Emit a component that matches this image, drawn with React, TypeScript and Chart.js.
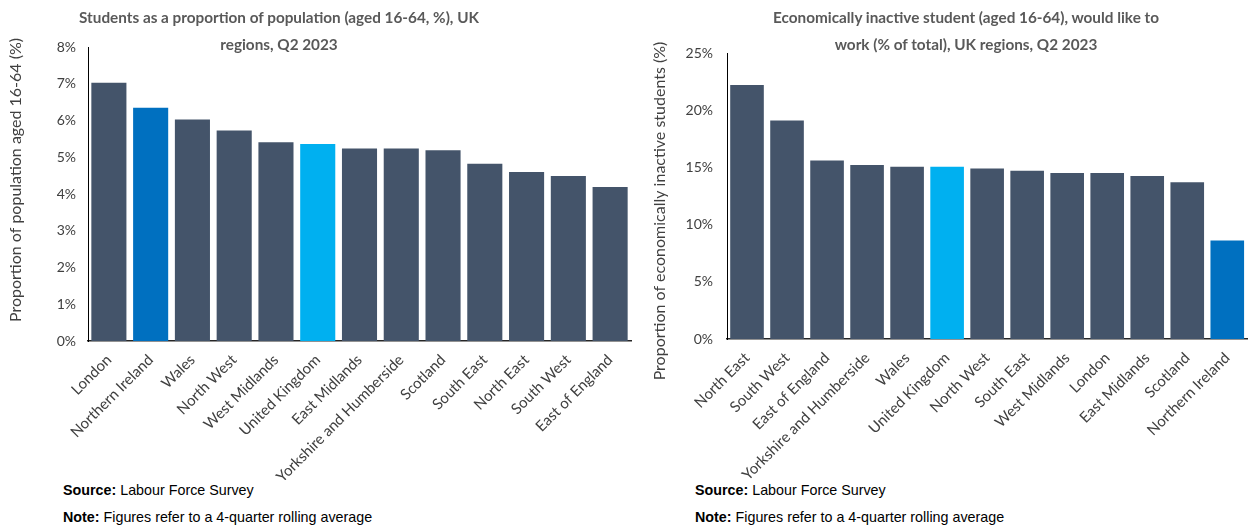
import React, { useEffect, useRef } from "react";
import { Chart, registerables } from "chart.js";

Chart.register(...registerables);

// ---- Data: left chart ----
const leftCategories = [
  "London",
  "Northern Ireland",
  "Wales",
  "North West",
  "West Midlands",
  "United Kingdom",
  "East Midlands",
  "Yorkshire and Humberside",
  "Scotland",
  "South East",
  "North East",
  "South West",
  "East of England",
];
const leftValues = [7.03, 6.35, 6.03, 5.73, 5.41, 5.36, 5.24, 5.24, 5.19, 4.82, 4.6, 4.49, 4.19];
const leftTitleLines = ["Students as a proportion of population (aged 16-64, %), UK", "regions, Q2 2023"];
const leftAxisTitle = "Proportion of population aged 16-64 (%)";
const leftMax = 8;
const leftStep = 1;

// ---- Data: right chart ----
const rightCategories = [
  "North East",
  "South West",
  "East of England",
  "Yorkshire and Humberside",
  "Wales",
  "United Kingdom",
  "North West",
  "South East",
  "West Midlands",
  "London",
  "East Midlands",
  "Scotland",
  "Northern Ireland",
];
const rightValues = [22.2, 19.1, 15.6, 15.2, 15.05, 15.05, 14.9, 14.7, 14.5, 14.5, 14.25, 13.7, 8.6];
const rightTitleLines = ["Economically inactive student (aged 16-64), would like to", "work (% of total), UK regions, Q2 2023"];
const rightAxisTitle = "Proportion of economically inactive students (%)";
const rightMax = 25;
const rightStep = 5;

const footerSource = "Labour Force Survey";
const footerNote = "Figures refer to a 4-quarter rolling average";

const BASE = "#44546A";
const NI = "#0070C0";
const UK = "#00B0F0";
const colorFor = (c: string) => (c === "Northern Ireland" ? NI : c === "United Kingdom" ? UK : BASE);

const FONT = "Lato, 'Open Sans', sans-serif";

type Cfg = {
  categories: string[];
  values: number[];
  max: number;
  step: number;
  axisTitle: string;
  yWidth: number;
  xHeight: number;
  padTop: number;
  padRight: number;
  tickPad: number;
  titleX: number;
  titleY: number;
};

function BarChart({ cfg, width, height }: { cfg: Cfg; width: number; height: number }) {
  const ref = useRef<HTMLCanvasElement | null>(null);
  useEffect(() => {
    if (!ref.current) return;
    const axisTitlePlugin = {
      id: "axisTitle",
      afterDraw(chart: any) {
        const ctx = chart.ctx;
        ctx.save();
        ctx.translate(cfg.titleX, cfg.titleY);
        ctx.rotate(-Math.PI / 2);
        ctx.font = `16px ${FONT}`;
        ctx.fillStyle = "#404040";
        ctx.textAlign = "center";
        ctx.textBaseline = "middle";
        ctx.fillText(cfg.axisTitle, 0, 0);
        ctx.restore();
      },
    };
    const chart = new Chart(ref.current, {
      type: "bar",
      data: {
        labels: cfg.categories,
        datasets: [
          {
            data: cfg.values,
            backgroundColor: cfg.categories.map(colorFor),
            borderWidth: 0,
            barPercentage: 0.84,
            categoryPercentage: 1,
          },
        ],
      },
      plugins: [axisTitlePlugin],
      options: {
        responsive: false,
        animation: false,
        layout: { padding: { top: cfg.padTop, right: cfg.padRight, left: 0, bottom: 0 } },
        plugins: { legend: { display: false }, tooltip: { enabled: false }, title: { display: false } },
        scales: {
          x: {
            grid: { display: false, drawTicks: false },
            border: { display: true, color: "#262626", width: 1.5 },
            ticks: {
              color: "#404040",
              font: { family: FONT, size: 15 },
              minRotation: 45,
              maxRotation: 45,
              autoSkip: false,
              padding: 10,
            },
            afterFit: (s: any) => {
              s.height = cfg.xHeight;
            },
          },
          y: {
            min: 0,
            max: cfg.max,
            grid: { display: false, drawTicks: false },
            border: { display: true, color: "#000000", width: 1 },
            ticks: {
              stepSize: cfg.step,
              color: "#404040",
              font: { family: FONT, size: 14 },
              padding: cfg.tickPad,
              callback: (v: any) => v + "%",
            },
            title: { display: false },
            afterFit: (s: any) => {
              s.width = cfg.yWidth;
            },
          },
        },
      },
    });
    return () => chart.destroy();
  }, [cfg]);
  return <canvas ref={ref} width={width} height={height} style={{ width, height, display: "block" }} />;
}

const leftCfg: Cfg = {
  categories: leftCategories,
  values: leftValues,
  max: leftMax,
  step: leftStep,
  axisTitle: leftAxisTitle,
  yWidth: 88,
  xHeight: 139,
  padTop: 47,
  padRight: 9,
  tickPad: 12,
  titleX: 16,
  titleY: 180,
};
const rightCfg: Cfg = {
  categories: rightCategories,
  values: rightValues,
  max: rightMax,
  step: rightStep,
  axisTitle: rightAxisTitle,
  yWidth: 87,
  xHeight: 141,
  padTop: 53,
  padRight: 0,
  tickPad: 14,
  titleX: 20,
  titleY: 211,
};

const titleStyle: React.CSSProperties = {
  position: "absolute",
  top: 4,
  textAlign: "center",
  fontFamily: FONT,
  fontWeight: 700,
  fontSize: 15.3,
  lineHeight: "27px",
  color: "#595959",
  whiteSpace: "nowrap",
};
const footStyle: React.CSSProperties = {
  position: "absolute",
  fontFamily: "'Liberation Sans', Arial, sans-serif",
  fontSize: 14.3,
  color: "#000",
  whiteSpace: "nowrap",
};

export default function App() {
  return (
    <div style={{ position: "absolute", left: 0, top: 0, width: 1250, height: 527, background: "#fff", overflow: "hidden" }}>
      <div style={{ position: "absolute", left: 0, top: 0 }}>
        <BarChart cfg={leftCfg} width={640} height={480} />
      </div>
      <div style={{ position: "absolute", left: 640, top: 0 }}>
        <BarChart cfg={rightCfg} width={610} height={480} />
      </div>
      <div style={{ ...titleStyle, left: 0, width: 558 }}>
        {leftTitleLines.map((l) => (
          <div key={l}>{l}</div>
        ))}
      </div>
      <div style={{ ...titleStyle, left: 716, width: 500 }}>
        {rightTitleLines.map((l) => (
          <div key={l}>{l}</div>
        ))}
      </div>
      {[63, 695].map((x) => (
        <React.Fragment key={x}>
          <div style={{ ...footStyle, left: x, top: 482 }}>
            <b>Source:</b> {footerSource}
          </div>
          <div style={{ ...footStyle, left: x, top: 509 }}>
            <b>Note:</b> {footerNote}
          </div>
        </React.Fragment>
      ))}
    </div>
  );
}
